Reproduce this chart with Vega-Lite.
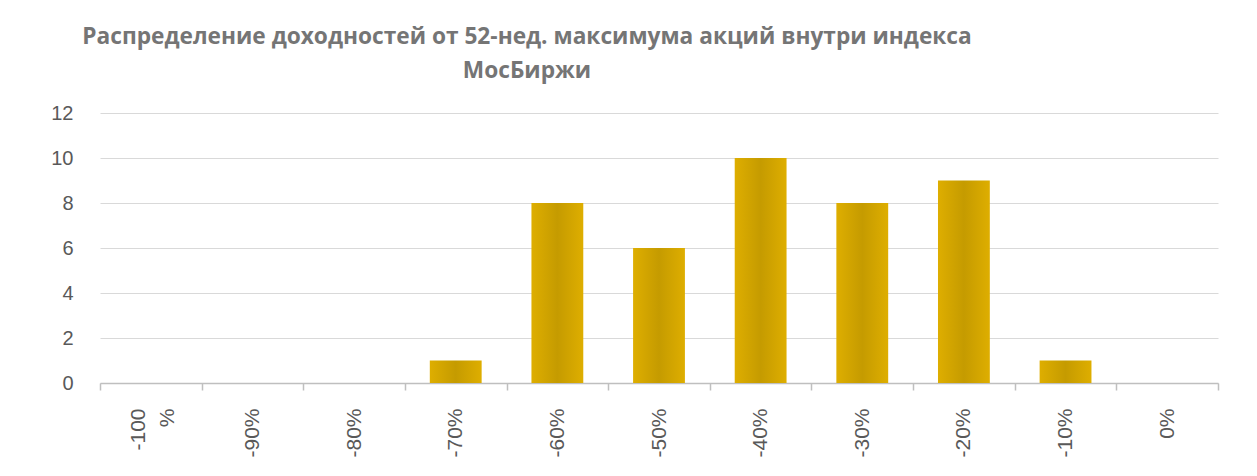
{
  "$schema": "https://vega.github.io/schema/vega-lite/v6.json",
  "autosize": "none",
  "width": 1118,
  "height": 270,
  "padding": {"left": 100, "top": 113, "right": 39, "bottom": 93},
  "background": "white",
  "title": {
    "text": ["Распределение доходностей от 52-нед. максимума акций внутри индекса", "МосБиржи"],
    "anchor": "middle",
    "dx": -132,
    "offset": 20,
    "font": "Open Sans",
    "fontSize": 22.7,
    "fontWeight": "bold",
    "color": "#757575",
    "lineHeight": 34
  },
  "data": {
    "values": [
      {"bucket": "-100%", "count": 0},
      {"bucket": "-90%", "count": 0},
      {"bucket": "-80%", "count": 0},
      {"bucket": "-70%", "count": 1},
      {"bucket": "-60%", "count": 8},
      {"bucket": "-50%", "count": 6},
      {"bucket": "-40%", "count": 10},
      {"bucket": "-30%", "count": 8},
      {"bucket": "-20%", "count": 9},
      {"bucket": "-10%", "count": 1},
      {"bucket": "0%", "count": 0}
    ]
  },
  "mark": {
    "type": "bar",
    "width": {"band": 0.51},
    "color": {
      "gradient": "linear",
      "x1": 0, "y1": 0, "x2": 1, "y2": 0,
      "stops": [
        {"offset": 0, "color": "#deae00"},
        {"offset": 0.5, "color": "#c59b00"},
        {"offset": 1, "color": "#deae00"}
      ]
    }
  },
  "encoding": {
    "x": {
      "field": "bucket",
      "type": "nominal",
      "sort": null,
      "title": null,
      "scale": {"paddingInner": 0, "paddingOuter": 0},
      "axis": {
        "tickBand": "extent",
        "tickSize": 7,
        "tickColor": "#bfbfbf",
        "tickWidth": 1.5,
        "domainColor": "#bfbfbf",
        "domainWidth": 1.5,
        "labelAngle": 270,
        "labelAlign": "right",
        "labelBaseline": "middle",
        "labelPadding": 18,
        "labelFont": "Liberation Sans",
        "labelFontSize": 21,
        "labelColor": "#595959",
        "labelLineHeight": 29,
        "labelOffset": {"condition": {"test": "datum.value == '-100%'", "value": -12}, "value": 0},
        "labelExpr": "datum.value == '-100%' ? ['-100', '%'] : datum.label"
      }
    },
    "y": {
      "field": "count",
      "type": "quantitative",
      "title": null,
      "scale": {"domain": [0, 12]},
      "axis": {
        "values": [0, 2, 4, 6, 8, 10, 12],
        "domain": false,
        "ticks": false,
        "gridColor": "#d9d9d9",
        "labelPadding": 27,
        "labelFont": "Liberation Sans",
        "labelFontSize": 20,
        "labelColor": "#595959"
      }
    }
  },
  "config": {
    "view": {"stroke": null}
  }
}
